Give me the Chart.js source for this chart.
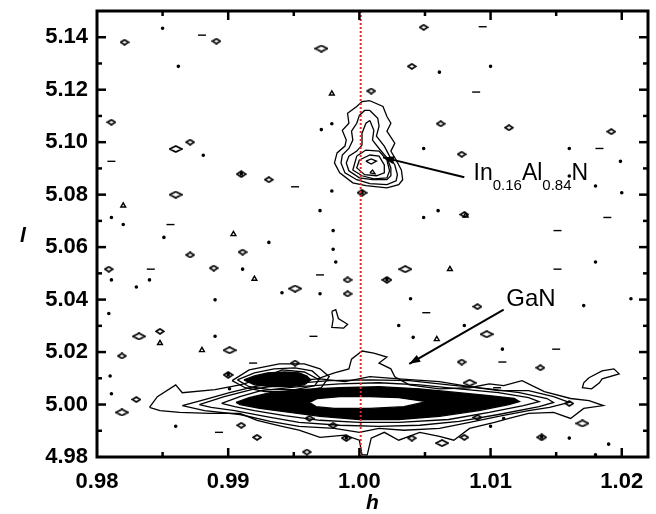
<!DOCTYPE html>
<html>
<head>
<meta charset="utf-8">
<script src="https://cdn.jsdelivr.net/npm/chart.js@4.4.1/dist/chart.umd.min.js"></script>
<style>
html, body { margin: 0; padding: 0; background: #fff; }
#wrap { width: 656px; height: 514px; }
</style>
</head>
<body>
<div id="wrap"><canvas id="rsm" width="656" height="514"></canvas></div>
<script>
const hRange = [0.98, 1.022];
const lRange = [4.98, 5.15];
const hTicks = [0.98, 0.99, 1.00, 1.01, 1.02];
const lTicks = [4.98, 5.00, 5.02, 5.04, 5.06, 5.08, 5.10, 5.12, 5.14];
const refH = 1.0001; // red dotted line, h = 1

// GaN peak: solid black core and the white centre
const ganCore = [[0.9906,5.0008],[0.9916,5.0026],[0.9932,5.0045],[0.9954,5.0057],[0.9985,5.0064],[1.0015,5.0068],[1.0046,5.0060],[1.0076,5.0045],[1.0099,5.0034],[1.0118,5.0023],[1.0122,5.0011],[1.0114,5.0000],[1.0091,4.9977],[1.0061,4.9955],[1.0030,4.9943],[1.0000,4.9943],[0.9970,4.9955],[0.9947,4.9970],[0.9924,4.9985],[0.9909,5.0000]];
const ganCentre = [[0.9962,5.0008],[0.9968,5.0023],[0.9985,5.0030],[1.0008,5.0030],[1.0030,5.0026],[1.0051,5.0011],[1.0034,4.9992],[1.0008,4.9985],[0.9981,4.9985],[0.9967,4.9992]];

// outer GaN contours, inner to outer
const ganShell1 = [[0.9895,5.0004],[0.9909,5.0030],[0.9925,5.0053],[0.9954,5.0068],[0.9985,5.0079],[1.0015,5.0083],[1.0046,5.0075],[1.0076,5.0060],[1.0106,5.0045],[1.0129,5.0026],[1.0137,5.0011],[1.0125,4.9996],[1.0099,4.9970],[1.0068,4.9943],[1.0030,4.9932],[1.0000,4.9932],[0.9970,4.9940],[0.9943,4.9958],[0.9920,4.9977],[0.9905,4.9992]];
const ganShell2 = [[0.9878,5.0000],[0.9897,5.0030],[0.9920,5.0060],[0.9947,5.0079],[0.9977,5.0091],[1.0008,5.0094],[1.0038,5.0091],[1.0068,5.0075],[1.0099,5.0060],[1.0122,5.0045],[1.0143,5.0023],[1.0148,5.0008],[1.0137,4.9992],[1.0106,4.9962],[1.0076,4.9936],[1.0046,4.9921],[1.0015,4.9917],[0.9985,4.9921],[0.9954,4.9932],[0.9928,4.9955],[0.9905,4.9977],[0.9887,4.9989]];
const ganShell3 = [[0.9865,4.9996],[0.9882,5.0019],[0.9901,5.0045],[0.9920,5.0068],[0.9947,5.0091],[0.9970,5.0098],[0.9989,5.0087],[1.0008,5.0106],[1.0030,5.0098],[1.0061,5.0087],[1.0084,5.0068],[1.0106,5.0053],[1.0129,5.0053],[1.0148,5.0030],[1.0160,5.0008],[1.0145,4.9989],[1.0129,4.9977],[1.0106,4.9955],[1.0084,4.9932],[1.0061,4.9909],[1.0034,4.9902],[1.0015,4.9909],[1.0000,4.9894],[0.9981,4.9909],[0.9954,4.9917],[0.9932,4.9936],[0.9909,4.9962],[0.9882,4.9977]];
const ganShell4 = [[0.9840,4.9989],[0.9846,5.0030],[0.9860,5.0075],[0.9865,5.0045],[0.9890,5.0057],[0.9909,5.0075],[0.9925,5.0098],[0.9941,5.0132],[0.9958,5.0124],[0.9968,5.0098],[0.9981,5.0121],[0.9992,5.0136],[0.9994,5.0173],[1.0002,5.0204],[1.0011,5.0196],[1.0021,5.0181],[1.0015,5.0158],[1.0024,5.0136],[1.0027,5.0106],[1.0038,5.0075],[1.0061,5.0060],[1.0084,5.0064],[1.0099,5.0079],[1.0110,5.0072],[1.0124,5.0091],[1.0141,5.0049],[1.0161,5.0023],[1.0175,5.0015],[1.0186,4.9996],[1.0171,4.9985],[1.0161,4.9947],[1.0148,4.9970],[1.0129,4.9966],[1.0114,4.9947],[1.0103,4.9932],[1.0084,4.9909],[1.0072,4.9864],[1.0061,4.9879],[1.0046,4.9894],[1.0030,4.9864],[1.0019,4.9894],[1.0009,4.9872],[1.0006,4.9808],[1.0002,4.9808],[1.0000,4.9864],[0.9989,4.9883],[0.9970,4.9875],[0.9954,4.9902],[0.9941,4.9917],[0.9922,4.9940],[0.9909,4.9966],[0.9886,4.9966],[0.9863,4.9970],[0.9848,4.9977]];

// side peak left of GaN
const sideCore = [[0.9912,5.0094],[0.9920,5.0109],[0.9930,5.0121],[0.9943,5.0124],[0.9954,5.0121],[0.9960,5.0109],[0.9963,5.0094],[0.9958,5.0075],[0.9947,5.0068],[0.9932,5.0068],[0.9920,5.0075]];
const sideShell1 = [[0.9907,5.0094],[0.9920,5.0121],[0.9935,5.0136],[0.9951,5.0140],[0.9964,5.0128],[0.9970,5.0102],[0.9966,5.0072],[0.9951,5.0057],[0.9932,5.0057],[0.9916,5.0068]];
const sideShell2 = [[0.9903,5.0091],[0.9916,5.0132],[0.9939,5.0155],[0.9958,5.0155],[0.9970,5.0136],[0.9977,5.0106],[0.9971,5.0064],[0.9954,5.0049],[0.9928,5.0049],[0.9913,5.0064]];

// In0.16Al0.84N peak, outer to inner
const inalnShell1 = [[1.0008,5.1158],[1.0018,5.1136],[1.0021,5.1098],[1.0024,5.1072],[1.0021,5.1042],[1.0027,5.0996],[1.0024,5.0966],[1.0028,5.0932],[1.0032,5.0894],[1.0033,5.0857],[1.0030,5.0838],[1.0021,5.0826],[1.0005,5.0834],[0.9995,5.0845],[0.9985,5.0883],[0.9981,5.0921],[0.9983,5.0959],[0.9989,5.0985],[0.9990,5.1008],[0.9987,5.1045],[0.9992,5.1072],[0.9991,5.1110],[0.9998,5.1136],[1.0002,5.1155]];
const inalnShell2 = [[1.0008,5.1121],[1.0014,5.1091],[1.0015,5.1061],[1.0013,5.1023],[1.0019,5.0985],[1.0023,5.0947],[1.0027,5.0913],[1.0029,5.0876],[1.0028,5.0853],[1.0021,5.0838],[1.0008,5.0842],[0.9998,5.0857],[0.9989,5.0883],[0.9986,5.0921],[0.9987,5.0951],[0.9992,5.0976],[0.9995,5.1008],[0.9994,5.1042],[0.9998,5.1072],[1.0000,5.1102],[1.0004,5.1121]];
const inalnShell3 = [[1.0008,5.1083],[1.0011,5.1045],[1.0010,5.1008],[1.0015,5.0976],[1.0021,5.0940],[1.0024,5.0902],[1.0024,5.0872],[1.0021,5.0857],[1.0010,5.0857],[1.0000,5.0864],[0.9992,5.0891],[0.9990,5.0921],[0.9992,5.0947],[0.9998,5.0966],[1.0002,5.0989],[1.0002,5.1034],[1.0005,5.1072]];
const inalnShell4 = [[0.9998,5.0947],[1.0005,5.0970],[1.0015,5.0966],[1.0021,5.0932],[1.0023,5.0891],[1.0021,5.0864],[1.0011,5.0860],[1.0002,5.0872],[0.9995,5.0894]];
const inalnShell5 = [[1.0000,5.0932],[1.0008,5.0951],[1.0015,5.0947],[1.0019,5.0913],[1.0019,5.0883],[1.0013,5.0872],[1.0004,5.0876],[0.9998,5.0902]];
const inalnShell6 = [[1.0005,5.0928],[1.0009,5.0936],[1.0013,5.0928],[1.0009,5.0917]];
const inalnShell7 = [[1.0008,5.0883],[1.0010,5.0894],[1.0012,5.0879]];

// loose contours
const streakBlob = [[0.9979,5.0355],[0.9982,5.0362],[0.9984,5.0328],[0.9991,5.0306],[0.9988,5.0291],[0.9979,5.0294],[0.9980,5.0325]];
const edgeBlob = [[1.0175,5.0102],[1.0185,5.0128],[1.0194,5.0136],[1.0198,5.0117],[1.0185,5.0098],[1.0183,5.0083],[1.0177,5.0060],[1.0170,5.0064],[1.0171,5.0083]];

// background noise contours
const noiseDots = [[0.9850,5.1434],[0.9862,5.1289],[0.9881,5.0950],[0.9811,5.0713],[0.9820,5.0686],[0.9851,5.0637],[0.9931,5.0618],[0.9911,5.0516],[0.9811,5.0475],[0.9840,5.0475],[0.9830,5.0448],[0.9970,5.0422],[0.9890,5.0399],[0.9941,5.0426],[0.9982,5.0543],[0.9980,5.0592],[0.9980,5.0663],[0.9970,5.0739],[1.0049,5.0713],[1.0060,5.0739],[1.0180,5.0543],[1.0200,5.0807],[1.0039,5.0403],[1.0080,5.0301],[1.0030,5.0301],[1.0041,5.0256],[1.0109,5.0211],[1.0171,5.0377],[1.0207,5.0403],[0.9971,5.1048],[0.9979,5.1070],[1.0049,5.0976],[1.0061,5.1267],[1.0100,5.1289],[0.9979,5.0814],[1.0199,5.0927],[1.0160,5.0976],[0.9810,5.0109],[0.9811,5.0041],[0.9860,4.9917],[0.9901,5.0060],[1.0100,4.9917],[1.0110,4.9947],[1.0160,4.9872],[1.0190,4.9849],[0.9890,5.0260],[0.9809,5.0347],[1.0180,5.0833],[1.0160,5.0871],[1.0180,4.9808]];
const noiseDashes = [[0.9880,5.1408],[0.9811,5.0927],[0.9856,5.0686],[0.9841,5.0516],[0.9970,5.0494],[0.9951,5.0830],[1.0151,5.0663],[1.0151,5.0516],[1.0189,5.0713],[1.0051,5.0350],[1.0150,5.0211],[0.9965,5.0260],[0.9893,4.9894],[0.9919,5.0158],[1.0109,5.0162],[1.0105,5.0064],[1.0094,5.1440],[1.0183,5.0976],[1.0089,5.1191]];
const noiseDiamonds = [[0.9891,5.1385],[0.9811,5.1076],[0.9871,5.1000],[0.9931,5.0857],[0.9871,5.0570],[0.9809,5.0516],[0.9889,5.0520],[0.9991,5.0475],[0.9991,5.0422],[1.0090,5.0373],[0.9819,5.0185],[0.9848,5.0279],[1.0040,5.1289],[1.0009,5.1195],[1.0062,5.1070],[1.0078,5.0954],[1.0080,5.0724],[1.0114,5.1055],[1.0192,5.1040],[0.9830,5.0019],[0.9910,4.9921],[0.9951,5.0158],[1.0040,4.9872],[1.0080,4.9875],[1.0090,4.9951],[1.0078,5.0162],[1.0138,5.0140],[1.0160,5.0004],[0.9962,4.9947],[0.9980,4.9921],[0.9960,4.9819],[0.9922,4.9875],[1.0049,5.1438],[0.9911,5.0581],[0.9821,5.1381]];
const noiseTriangles = [[1.0059,5.0249],[1.0069,5.0516],[1.0081,5.0720],[0.9904,5.0649],[0.9820,5.0758],[0.9979,5.1185],[0.9920,5.0479],[0.9880,5.0207],[0.9848,5.0234]];
const noiseWide = [[0.9860,5.0800],[0.9860,5.0974],[0.9951,5.0442],[0.9901,5.0207],[0.9832,5.0260],[0.9971,5.1357],[1.0035,5.0516],[1.0097,5.0268],[1.0170,4.9928],[1.0063,4.9853],[0.9819,4.9970],[1.0084,5.0083]];
const noiseDark = [[0.9910,5.0878],[1.0021,5.0475],[1.0002,5.0807],[0.9900,5.0113],[1.0139,4.9875],[0.9990,4.9872]];

// labels and arrows: [from, to] in (h, l)
const ganArrow = [[1.0110, 5.0362], [1.0038, 5.0155]];
const ganLabelAt = [1.0112, 5.0374];
const inalnArrow = [[1.0080, 5.0866], [1.0018, 5.0942]];
const inalnLabelAt = [1.0087, 5.0857];

const FONT = 'Arial, "Liberation Sans", Helvetica, sans-serif';

const toXY = pts => pts.map(([x, y]) => ({x, y}));

const ring = (pts, extra) => Object.assign({
    type: 'line',
    data: toXY(pts.concat([pts[0]])),
    borderColor: '#000',
    borderWidth: 1.3,
    pointRadius: 0,
    fill: false,
    tension: 0,
    order: 3
}, extra);

// little contour glyphs for the noise
const glyph = (w, h, dot) => {
    const c = document.createElement('canvas');
    c.width = w + 2; c.height = h + 2;
    const g = c.getContext('2d');
    g.strokeStyle = '#000'; g.fillStyle = '#000'; g.lineWidth = 1.6;
    g.beginPath();
    g.moveTo(1, h / 2 + 1); g.lineTo(w / 2 + 1, 1); g.lineTo(w + 1, h / 2 + 1); g.lineTo(w / 2 + 1, h + 1);
    g.closePath(); g.stroke();
    if (dot) g.fillRect(w / 2 - 0.5, h / 2 - 0.5, 3, 3);
    return c;
};

const marks = (pts, style, r) => ({
    type: 'scatter',
    data: toXY(pts),
    pointStyle: style,
    pointRadius: r,
    borderColor: '#000',
    backgroundColor: '#000',
    borderWidth: 1.4,
    order: 4
});

const datasets = [
    {type: 'line', data: toXY([[refH, lRange[0]], [refH, lRange[1]]]), borderColor: '#e3262a', borderWidth: 2, borderDash: [2, 2], pointRadius: 0, order: 0},
    ring(ganCentre, {fill: 'shape', backgroundColor: '#fff', order: 1}),
    ring(ganCore, {fill: 'shape', backgroundColor: '#000', order: 2}),
    ring(sideCore, {fill: 'shape', backgroundColor: '#000', order: 2}),
    ring(ganShell1), ring(ganShell2), ring(ganShell3), ring(ganShell4),
    ring(sideShell1), ring(sideShell2),
    ring(inalnShell1), ring(inalnShell2), ring(inalnShell3), ring(inalnShell4),
    ring(inalnShell5), ring(inalnShell6), ring(inalnShell7),
    ring(streakBlob), ring(edgeBlob),
    marks(noiseDots, 'circle', 1.1),
    marks(noiseDashes, 'line', 4),
    marks(noiseDiamonds, glyph(8, 5, false), 3),
    marks(noiseTriangles, 'triangle', 2.8),
    marks(noiseWide, glyph(12, 6, false), 4),
    marks(noiseDark, glyph(9, 6, true), 3)
];
datasets.filter(d => d.type === 'scatter' && d.pointStyle === 'triangle').forEach(d => { d.backgroundColor = 'rgba(0,0,0,0)'; });

function drawArrow(ctx, x0, y0, x1, y1) {
    ctx.beginPath(); ctx.moveTo(x0, y0); ctx.lineTo(x1, y1); ctx.stroke();
    const a = Math.atan2(y1 - y0, x1 - x0), L = 11, W = 4;
    ctx.beginPath();
    ctx.moveTo(x1, y1);
    ctx.lineTo(x1 - L * Math.cos(a) + W * Math.sin(a), y1 - L * Math.sin(a) - W * Math.cos(a));
    ctx.lineTo(x1 - L * Math.cos(a) - W * Math.sin(a), y1 - L * Math.sin(a) + W * Math.cos(a));
    ctx.closePath(); ctx.fill();
}

// frame, inward ticks, axis titles and the two labels
const framePlugin = {
    id: 'frame',
    afterDraw(chart) {
        const {ctx, chartArea: a, scales: {x, y}} = chart;
        ctx.save();
        ctx.strokeStyle = '#000';
        ctx.fillStyle = '#000';
        ctx.lineWidth = 3;
        ctx.strokeRect(a.left, a.top, a.right - a.left, a.bottom - a.top);

        ctx.lineWidth = 2.5;
        const tick = (x0, y0, x1, y1) => { ctx.beginPath(); ctx.moveTo(x0, y0); ctx.lineTo(x1, y1); ctx.stroke(); };
        for (let i = 1; i < 2 * (hTicks.length - 1) + 1; i++) {
            const px = x.getPixelForValue(hTicks[0] + i * 0.005);
            if (px >= a.right - 1) continue;
            const len = i % 2 === 0 ? 9 : 5;
            tick(px, a.bottom, px, a.bottom - len);
            tick(px, a.top, px, a.top + len);
        }
        for (let i = 1; i < 17; i++) {
            const py = y.getPixelForValue(lTicks[0] + i * 0.01);
            const len = i % 2 === 0 ? 9 : 5;
            tick(a.left, py, a.left + len, py);
            tick(a.right, py, a.right - len, py);
        }

        ctx.font = 'italic bold 21px ' + FONT;
        ctx.textAlign = 'center';
        ctx.textBaseline = 'middle';
        ctx.fillText('h', (a.left + a.right) / 2, 503);
        ctx.fillText('l', 23, (a.top + a.bottom) / 2 + 2);

        ctx.lineWidth = 2;
        drawArrow(ctx, x.getPixelForValue(ganArrow[0][0]), y.getPixelForValue(ganArrow[0][1]),
            x.getPixelForValue(ganArrow[1][0]), y.getPixelForValue(ganArrow[1][1]));
        drawArrow(ctx, x.getPixelForValue(inalnArrow[0][0]), y.getPixelForValue(inalnArrow[0][1]),
            x.getPixelForValue(inalnArrow[1][0]), y.getPixelForValue(inalnArrow[1][1]));

        ctx.textAlign = 'left';
        ctx.textBaseline = 'alphabetic';
        ctx.font = '24px ' + FONT;
        ctx.fillText('GaN', x.getPixelForValue(ganLabelAt[0]), y.getPixelForValue(ganLabelAt[1]));

        let tx = x.getPixelForValue(inalnLabelAt[0]);
        const ty = y.getPixelForValue(inalnLabelAt[1]);
        const parts = [['In', false], ['0.16', true], ['Al', false], ['0.84', true], ['N', false]];
        parts.forEach(([s, sub]) => {
            ctx.font = (sub ? '15px ' : '23px ') + FONT;
            ctx.fillText(s, tx, ty + (sub ? 10 : 0));
            tx += ctx.measureText(s).width;
        });
        ctx.restore();
    }
};

new Chart(document.getElementById('rsm'), {
    type: 'scatter',
    data: {datasets},
    options: {
        responsive: false,
        animation: false,
        events: [],
        devicePixelRatio: 1,
        layout: {padding: {top: 0, right: 8, left: 0, bottom: 0}},
        plugins: {legend: {display: false}, tooltip: {enabled: false}},
        scales: {
            x: {
                type: 'linear', min: hRange[0], max: hRange[1],
                grid: {display: false, drawTicks: false},
                border: {display: false},
                afterBuildTicks: s => { s.ticks = hTicks.map(v => ({value: v})); },
                afterFit: s => { s.height = 57; },
                ticks: {
                    color: '#000', padding: 12, maxRotation: 0, autoSkip: false,
                    font: {family: FONT, size: 22, weight: 'bold'},
                    callback: v => v.toFixed(2)
                }
            },
            y: {
                type: 'linear', min: lRange[0], max: lRange[1],
                grid: {display: false, drawTicks: false},
                border: {display: false},
                afterBuildTicks: s => { s.ticks = lTicks.map(v => ({value: v})); },
                afterFit: s => { s.width = 97; s.paddingTop = 11; s.paddingBottom = 0; },
                ticks: {
                    color: '#000', padding: 9, autoSkip: false,
                    font: {family: FONT, size: 22, weight: 'bold'},
                    callback: v => v.toFixed(2)
                }
            }
        }
    },
    plugins: [framePlugin]
});
</script>
</body>
</html>
